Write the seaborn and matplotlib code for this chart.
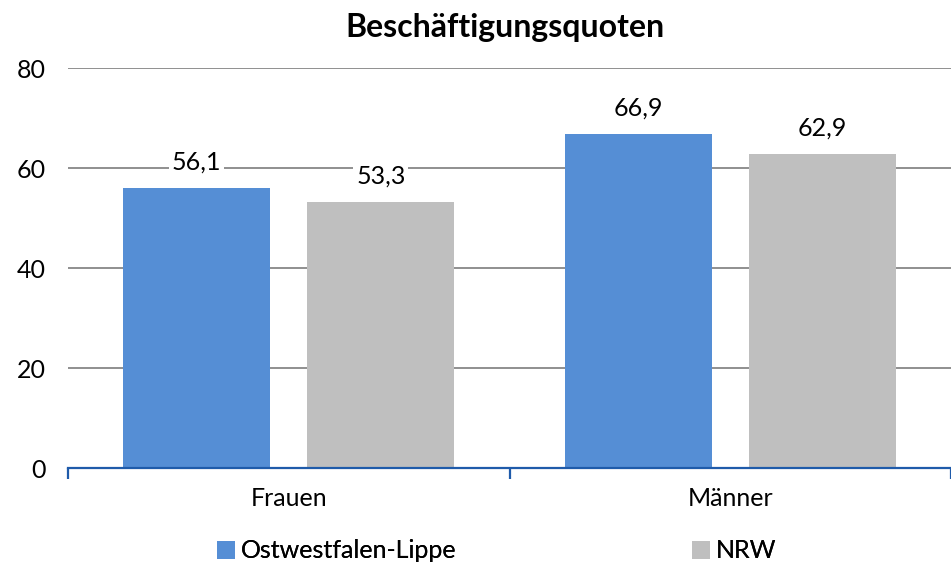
import matplotlib
matplotlib.use("Agg")
import matplotlib.pyplot as plt
import seaborn as sns
import pandas as pd
from matplotlib.patches import Patch

categories = ["Frauen", "Männer"]
series_names = ["Ostwestfalen-Lippe", "NRW"]
owl_values = [56.1, 66.9]
nrw_values = [53.3, 62.9]
title = "Beschäftigungsquoten"

df = pd.DataFrame({
    "Kategorie": categories * 2,
    "Region": [series_names[0]] * 2 + [series_names[1]] * 2,
    "Wert": owl_values + nrw_values,
})

sns.set_theme(style="white")
plt.rcParams['font.family'] = ['Lato', 'DejaVu Sans']
plt.rcParams['text.color'] = 'black'

colors = {"Ostwestfalen-Lippe": "#558ED5", "NRW": "#BFBFBF"}

fig = plt.figure(figsize=(9.51, 5.69), dpi=100)
ax = fig.add_axes([68/951, 101/569, 1 - 68/951, 400/569])

sns.barplot(data=df, x="Kategorie", y="Wert", hue="Region", palette=colors,
            width=0.834, gap=0.2, ax=ax, legend=False, saturation=1,
            linewidth=0)

ax.set_xlim(-0.5, -0.5 + (951 - 68) / 447)
ax.set_ylim(0, 80)
ax.set_yticks([0, 20, 40, 60, 80])
ax.yaxis.grid(True, color="#878787", linewidth=1.3)
ax.set_axisbelow(True)
for s in ["top", "right", "left"]:
    ax.spines[s].set_visible(False)
ax.spines["bottom"].set_color("#1F5BAA")
ax.spines["bottom"].set_linewidth(1.6)
ax.set_xlabel("")
ax.set_ylabel("")
ax.tick_params(axis="y", length=0, labelsize=18, pad=16, colors="black")
ax.tick_params(axis="x", which="major", length=0, labelsize=18, pad=14, colors="black")
ax.set_xticks([-0.5, 0.5, 1.5], minor=True)
ax.tick_params(axis="x", which="minor", bottom=True, length=8, width=1.6,
               color="#1F5BAA", direction="out")

for cont in ax.containers:
    for bar in cont:
        h = bar.get_height()
        ax.annotate(f"{h:.1f}".replace(".", ","),
                    (bar.get_x() + bar.get_width() / 2, h),
                    xytext=(0, 10), textcoords="offset points",
                    ha="center", va="bottom", fontsize=18, color="black",
                    bbox=dict(facecolor="white", edgecolor="none", pad=2))

fig.text(505/951, 1 - 28/569, title, ha="center", va="center",
         fontsize=23, fontweight="bold", color="black")

for name, xpos in zip(series_names, [217/951, 692/951]):
    leg = fig.legend([Patch(facecolor=colors[name], edgecolor="none")], [name],
                     loc="center left", bbox_to_anchor=(xpos, 1 - 551/569),
                     frameon=False, fontsize=18, handlelength=0.7, handleheight=0.7,
                     handletextpad=0.25, borderpad=0, borderaxespad=0,
                     labelcolor="black")
    fig.add_artist(leg)

fig.savefig("out.png", dpi=100)
